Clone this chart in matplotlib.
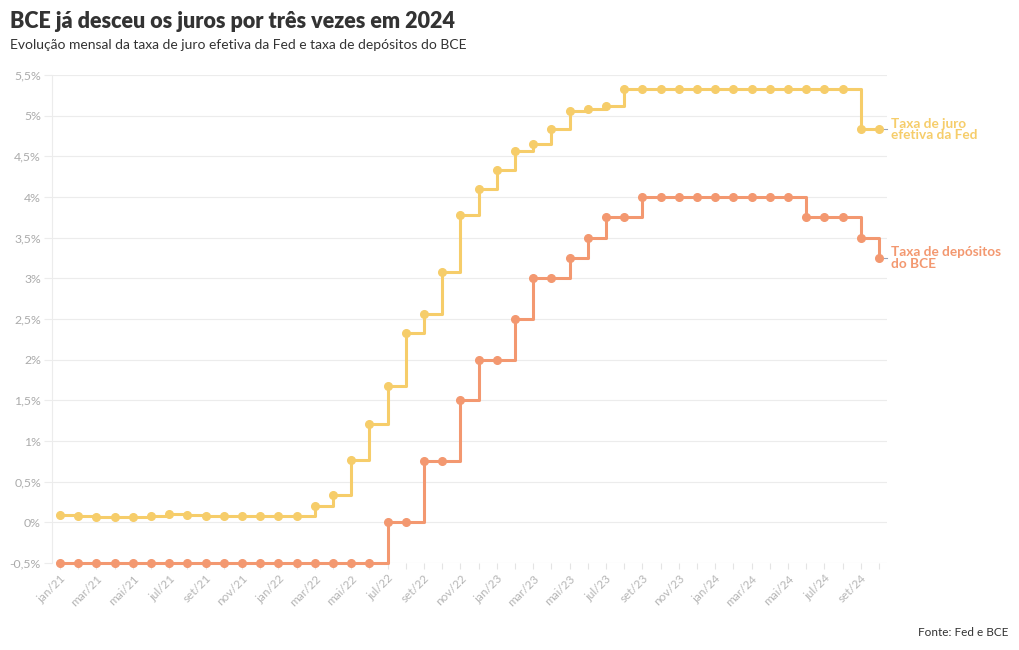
import matplotlib
matplotlib.use("Agg")
import matplotlib.pyplot as plt
from matplotlib.ticker import FixedLocator, FuncFormatter

plt.rcParams["font.family"] = ["Lato", "DejaVu Sans"]

# monthly, jan/21 .. out/24
months = ["jan", "fev", "mar", "abr", "mai", "jun",
          "jul", "ago", "set", "out", "nov", "dez"]
labels = [f"{m}/{y}" for y in ["21", "22", "23", "24"] for m in months][:46]

fed = [0.09, 0.08, 0.07, 0.07, 0.06, 0.08, 0.10, 0.09, 0.08, 0.08, 0.08, 0.08,
       0.08, 0.08, 0.20, 0.33, 0.77, 1.21, 1.68, 2.33, 2.56, 3.08, 3.78, 4.10,
       4.33, 4.57, 4.65, 4.83, 5.06, 5.08, 5.12, 5.33, 5.33, 5.33, 5.33, 5.33,
       5.33, 5.33, 5.33, 5.33, 5.33, 5.33, 5.33, 5.33, 4.83, 4.83]
bce = [-0.5, -0.5, -0.5, -0.5, -0.5, -0.5, -0.5, -0.5, -0.5, -0.5, -0.5, -0.5,
       -0.5, -0.5, -0.5, -0.5, -0.5, -0.5, 0.0, 0.0, 0.75, 0.75, 1.5, 2.0,
       2.0, 2.5, 3.0, 3.0, 3.25, 3.5, 3.75, 3.75, 4.0, 4.0, 4.0, 4.0,
       4.0, 4.0, 4.0, 4.0, 4.0, 3.75, 3.75, 3.75, 3.5, 3.25]

yticks = [-0.5, 0, 0.5, 1, 1.5, 2, 2.5, 3, 3.5, 4, 4.5, 5, 5.5]

FED_C = "#F6CD6A"
BCE_C = "#F39870"

fig = plt.figure(figsize=(10.2, 6.5), dpi=100)
ax = fig.add_axes([52 / 1020, 1 - 563 / 650, (887 - 52) / 1020, (563 - 75) / 650])

x = list(range(len(labels)))
for vals, col in [(fed, FED_C), (bce, BCE_C)]:
    ax.plot(x, vals, drawstyle="steps-post", color=col, lw=2.2, zorder=3,
            clip_on=False)
    ax.plot(x, vals, "o", color=col, ms=5.5, zorder=4, clip_on=False)

ax.set_xlim(-0.44, len(x) - 1 + 0.44)
ax.set_ylim(-0.5, 5.5)

ax.yaxis.set_major_locator(FixedLocator(yticks))
ax.yaxis.set_major_formatter(FuncFormatter(
    lambda v, _: (f"{v:g}".replace(".", ",")) + "%"))
ax.grid(axis="y", color="#ececec", lw=0.8)
ax.set_axisbelow(True)

ax.set_xticks(x)
ax.set_xticklabels([l if i % 2 == 0 else "" for i, l in enumerate(labels)],
                   rotation=45, ha="right", rotation_mode="anchor")
ax.tick_params(axis="x", length=4, color="#e4e4e4", labelcolor="#b5b5b5",
               labelsize=8.5, pad=3)
ax.tick_params(axis="y", length=6, color="#ececec", labelcolor="#ababab",
               labelsize=8.8, pad=2)

for s in ["top", "right", "bottom"]:
    ax.spines[s].set_visible(False)
ax.spines["left"].set_color("#ececec")

# end labels
last = len(x) - 1
for vals, col, txt in [(fed, FED_C, "Taxa de juro\nefetiva da Fed"),
                       (bce, BCE_C, "Taxa de depósitos\ndo BCE")]:
    ax.plot([last + 0.15, last + 0.45], [vals[-1], vals[-1]],
            color="#9aa4b8", lw=0.8, clip_on=False)
    ax.annotate(txt, xy=(last, vals[-1]), xytext=(9, 0),
                textcoords="offset points", ha="left", va="center",
                color=col, fontsize=9.8, fontweight="bold",
                linespacing=0.9, annotation_clip=False)

fig.text(10 / 1020, 1 - 22 / 650, "BCE já desceu os juros por três vezes em 2024",
         fontsize=15.5, fontweight="heavy", color="#333333", va="center")
fig.text(10 / 1020, 1 - 45 / 650,
         "Evolução mensal da taxa de juro efetiva da Fed e taxa de depósitos do BCE",
         fontsize=10, color="#333333", va="center")
fig.text(1008 / 1020, 1 - 633 / 650, "Fonte: Fed e BCE",
         fontsize=8.5, color="#333333", ha="right", va="center")

fig.savefig("out.png", dpi=100)
